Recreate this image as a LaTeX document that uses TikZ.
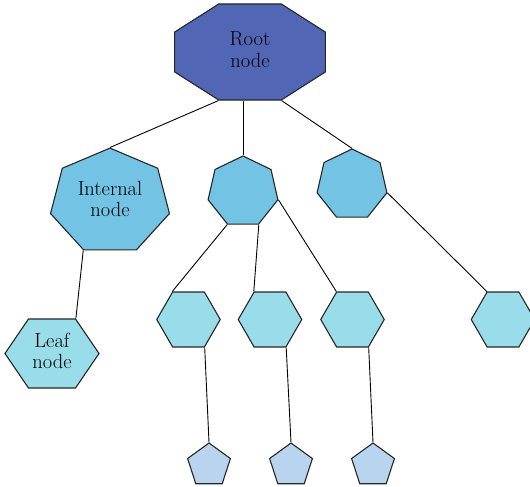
\documentclass[tikz,border=0pt]{standalone}
\usetikzlibrary{shapes.geometric}
\definecolor{rootblue}{RGB}{82,102,182}
\definecolor{heptblue}{RGB}{115,196,228}
\definecolor{hexblue}{RGB}{154,221,234}
\definecolor{pentblue}{RGB}{184,212,238}
\newcommand{\squeezed}[2]{\scalebox{#1}[1]{\fontsize{20.5}{21.5}\selectfont\begin{tabular}{@{}c@{}}#2\end{tabular}}}
\begin{document}
\begin{tikzpicture}%
[x=1pt,y=-1pt,line width=0.9pt,%
poly/.style={draw=black!85, line width=1.1pt, inner sep=0pt, regular polygon},%
octa/.style={poly, regular polygon sides=8, fill=rootblue, minimum size=104pt},%
hepta/.style={poly, regular polygon sides=7, fill=heptblue, minimum size=71.6pt},%
hexa/.style={poly, regular polygon sides=6, fill=hexblue, minimum size=63.5pt},%
penta/.style={poly, regular polygon sides=5, fill=pentblue, minimum size=45pt},%
wide/.style={xscale=#1, transform shape}]
\useasboundingbox (0,0) rectangle (530,487);
% nodes
\node[octa, wide=1.57] (root) at (250,52) {\squeezed{0.637}{Root\\node}};
\node[hepta, minimum size=107pt, wide=1.14] (internal) at (110,201.6) {\squeezed{0.877}{Internal\\node}};
\node[hepta] (mid) at (243,191.8) {};
\node[hepta] (right) at (352,184.8) {};
\node[hexa, minimum size=79.7pt, wide=1.18] (leaf) at (52,353.5) {\squeezed{0.847}{Leaf\\node}};
\node[hexa] (hexA) at (188.5,319.5) {};
\node[hexa] (hexB) at (270,319.5) {};
\node[hexa] (hexC) at (352.5,319.5) {};
\node[hexa] (hexD) at (503,319.5) {};
\node[penta] (pentA) at (209,465.5) {};
\node[penta] (pentB) at (291,465.5) {};
\node[penta] (pentC) at (373,465.5) {};
% edges
\draw (root.corner 5) -- (internal.corner 1);
\draw (mid.corner 1) -- (mid.corner 1 |- root.south);
\draw (root.corner 6) -- (right.corner 1);
\draw (internal.corner 4) -- (leaf.corner 1);
\draw (mid.corner 4) -- (hexA.corner 2);
\draw (mid.corner 5) -- (hexB.corner 2);
\draw (mid.corner 6) -- (hexC.corner 2);
\draw (right.corner 6) -- (hexD.corner 2);
\draw (hexA.corner 5) -- (pentA.corner 1);
\draw (hexB.corner 5) -- (pentB.corner 1);
\draw (hexC.corner 5) -- (pentC.corner 1);
\end{tikzpicture}
\end{document}
